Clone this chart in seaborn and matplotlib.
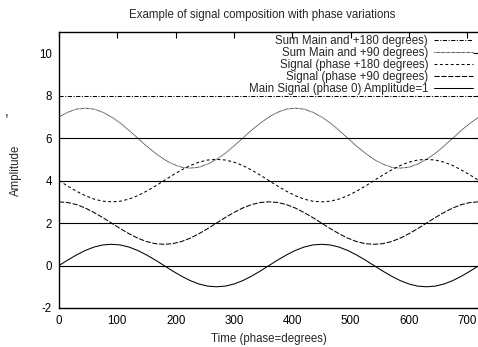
import numpy as np
import pandas as pd
import matplotlib
matplotlib.use("Agg")
import matplotlib.pyplot as plt
import seaborn as sns

angles = list(range(0, 721, 15))

main_signal = [0, 0.26, 0.5, 0.71, 0.87, 0.97, 1, 0.97, 0.87, 0.71, 0.5, 0.26,
               0, -0.26, -0.5, -0.71, -0.87, -0.97, -1, -0.97, -0.87, -0.71, -0.5, -0.26,
               0, 0.26, 0.5, 0.71, 0.87, 0.97, 1, 0.97, 0.87, 0.71, 0.5, 0.26,
               0, -0.26, -0.5, -0.71, -0.87, -0.97, -1, -0.97, -0.87, -0.71, -0.5, -0.26,
               0]

signal_90 = [3, 2.97, 2.87, 2.71, 2.5, 2.26, 2, 1.74, 1.5, 1.29, 1.13, 1.03,
             1, 1.03, 1.13, 1.29, 1.5, 1.74, 2, 2.26, 2.5, 2.71, 2.87, 2.97,
             3, 2.97, 2.87, 2.71, 2.5, 2.26, 2, 1.74, 1.5, 1.29, 1.13, 1.03,
             1, 1.03, 1.13, 1.29, 1.5, 1.74, 2, 2.26, 2.5, 2.71, 2.87, 2.97,
             3]

signal_180 = [4, 3.74, 3.5, 3.29, 3.13, 3.03, 3, 3.03, 3.13, 3.29, 3.5, 3.74,
              4, 4.26, 4.5, 4.71, 4.87, 4.97, 5, 4.97, 4.87, 4.71, 4.5, 4.26,
              4, 3.74, 3.5, 3.29, 3.13, 3.03, 3, 3.03, 3.13, 3.29, 3.5, 3.74,
              4, 4.26, 4.5, 4.71, 4.87, 4.97, 5, 4.97, 4.87, 4.71, 4.5, 4.26,
              4]

sum_90 = [7, 7.22, 7.37, 7.41, 7.37, 7.22, 7, 6.71, 6.37, 6, 5.63, 5.29,
          5, 4.78, 4.63, 4.59, 4.63, 4.78, 5, 5.29, 5.63, 6, 6.37, 6.71,
          7, 7.22, 7.37, 7.41, 7.37, 7.22, 7, 6.71, 6.37, 6, 5.63, 5.29,
          5, 4.78, 4.63, 4.59, 4.63, 4.78, 5, 5.29, 5.63, 6, 6.37, 6.71,
          7]

sum_180 = [8] * 49

baselines = [0, 2, 4, 6]

labels = ["Sum Main and +180 degrees)",
          "Sum Main and +90 degrees)",
          "Signal (phase +180 degrees)",
          "Signal (phase +90 degrees)",
          "Main Signal (phase 0) Amplitude=1"]

x_ticks = [0, 100, 200, 300, 400, 500, 600, 700]
y_ticks = [-2, 0, 2, 4, 6, 8, 10]

title = "Example of signal composition with phase variations"
xlabel = "Time (phase=degrees)"
ylabel = "Amplitude"

# ---- styling ----
sns.set_style("white")
plt.rcParams["font.family"] = ["Liberation Sans", "DejaVu Sans"]
plt.rcParams["axes.unicode_minus"] = False
FS = 8.3

fig = plt.figure(figsize=(4.78, 3.47), dpi=100)
W, H = 478, 347
ax = fig.add_axes([59 / W, 1 - 308 / H, (479 - 59) / W, (308 - 32) / H])

for b in baselines:
    ax.axhline(b, color="black", lw=0.8, zorder=1)

df = pd.DataFrame({"x": angles, "main": main_signal, "s90": signal_90,
                   "s180": signal_180, "m90": sum_90, "m180": sum_180})

styles = [
    ("m180", labels[0], (0, (4, 1.5, 1, 1.5))),
    ("m90", labels[1], (0, (0.6, 0.6))),
    ("s180", labels[2], (0, (2.8, 2.4))),
    ("s90", labels[3], (0, (5, 1.6))),
    ("main", labels[4], "-"),
]

handles = []
for col, lab, ls in styles:
    sns.lineplot(data=df, x="x", y=col, ax=ax, color="black", lw=0.75,
                 linestyle=ls, label=lab, legend=False, zorder=2)
    handles.append(ax.lines[-1])

ax.set_xlim(0, 720)
ax.set_ylim(-2, 11)
ax.set_xticks(x_ticks)
ax.set_yticks(y_ticks)
ax.tick_params(direction="in", length=4, width=0.8, top=True, right=True,
               labelsize=FS, colors="black", pad=5)
for s in ax.spines.values():
    s.set_visible(True)
    s.set_color("black")
    s.set_linewidth(1.0)

ax.set_xlabel(xlabel, fontsize=FS)
ax.set_ylabel(ylabel, fontsize=FS)
ax.xaxis.set_label_coords(0.5, -(333 - 308) / (308 - 32))
ax.yaxis.set_label_coords(-(59 - 22) / (479 - 59), 0.5)

fig.text(262 / W, 1 - 15 / H, title, fontsize=FS, ha="center", va="center")
fig.text(7 / W, 1 - 112 / H, ",", fontsize=10, ha="center", va="center")

leg = ax.legend(handles=handles, labels=labels, loc="upper right",
                bbox_to_anchor=(473 / W, 1 - 35 / H), bbox_transform=fig.transFigure,
                frameon=False, markerfirst=False, fontsize=FS, handlelength=3.4,
                handletextpad=0.5, labelspacing=0.0, borderpad=0, borderaxespad=0)

fig.savefig("out.png", dpi=100)
